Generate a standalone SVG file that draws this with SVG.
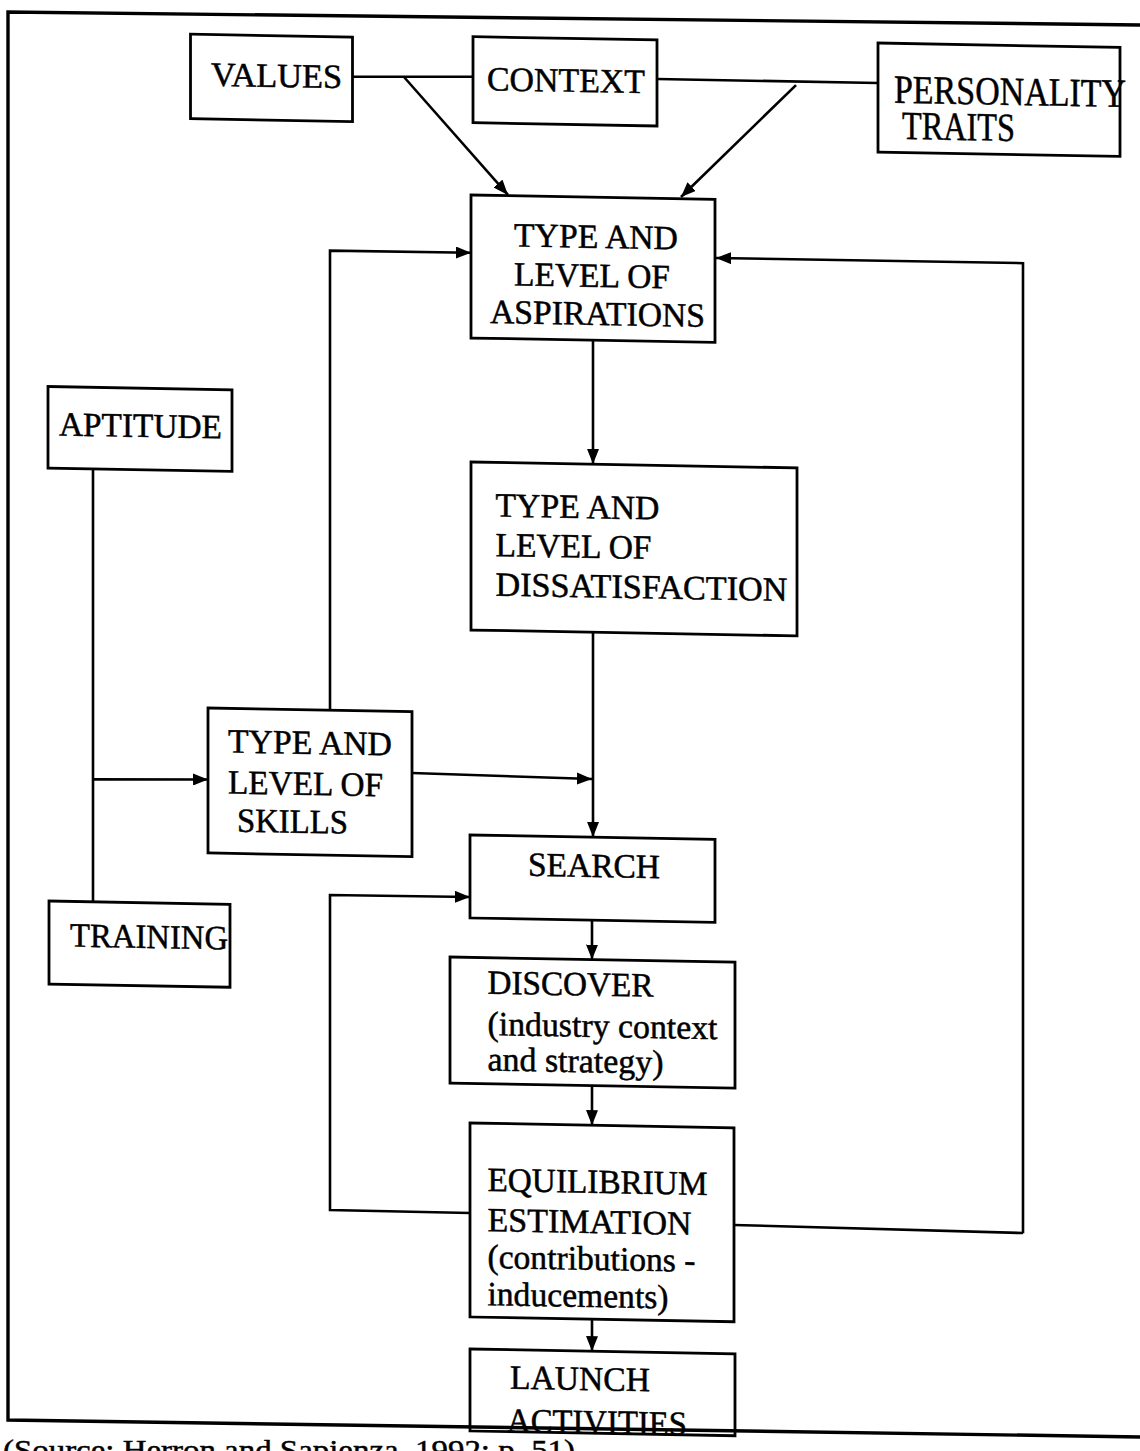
<svg xmlns="http://www.w3.org/2000/svg" width="1140" height="1451" viewBox="0 0 1140 1451">
<defs>
<marker id="ah" markerUnits="userSpaceOnUse" markerWidth="16" markerHeight="12" refX="15" refY="6" orient="auto">
<path d="M0,0 L15,6 L0,12 z" fill="#000"/>
</marker>
<style>
.box{fill:#fff;stroke:#000;stroke-width:2.8}
.ln{fill:none;stroke:#000;stroke-width:2.6}
.arr{fill:none;stroke:#000;stroke-width:2.6;marker-end:url(#ah)}
.frame{fill:none;stroke:#000;stroke-width:3.4}
text{font-family:"Liberation Serif","Times New Roman",serif;font-size:34px;fill:#000;stroke:#000;stroke-width:0.5}
.big{font-size:40px}
.src{font-size:30px}
</style>
</defs>
<rect width="1140" height="1451" fill="#fff"/>
<g transform="matrix(1,0.018,0,1,0,-10.26)">
<g id="connectors">
<line class="ln" x1="353" y1="80.6" x2="473" y2="78.5"/>
<line class="ln" x1="657" y1="77.4" x2="878" y2="77.5"/>
<line class="arr" x1="404" y1="80" x2="508" y2="196"/>
<line class="arr" x1="796" y1="81" x2="681" y2="195"/>
<polyline class="arr" points="330,714 330,255 471,254.5"/>
<polyline class="arr" points="1023,1225 1023,255 716,255.3"/>
<line class="arr" x1="593" y1="340" x2="593" y2="463.5"/>
<line class="arr" x1="593" y1="632" x2="593" y2="836.5"/>
<line class="ln" x1="93" y1="476.6" x2="93" y2="909.6"/>
<line class="arr" x1="93" y1="788" x2="208" y2="786"/>
<line class="arr" x1="412" y1="775.8" x2="592" y2="778.6"/>
<polyline class="arr" points="470,1214.8 330,1214.3 330,899.3 470,898.8"/>
<line class="arr" x1="592" y1="920" x2="592" y2="959.2"/>
<line class="arr" x1="592" y1="1085" x2="592" y2="1124.8"/>
<line class="ln" x1="734" y1="1222" x2="1023" y2="1224.9"/>
<line class="arr" x1="592" y1="1319" x2="592" y2="1350.8"/>
</g>
<g id="values">
<rect class="box" x="190.5" y="41" width="162" height="84.5"/>
<text x="211" y="92.3" textLength="131" lengthAdjust="spacingAndGlyphs">VALUES</text>
</g>
<g id="context">
<rect class="box" x="473" y="38.4" width="184" height="86"/>
<text x="487" y="91.8" textLength="158" lengthAdjust="spacingAndGlyphs">CONTEXT</text>
</g>
<g id="personality">
<rect class="box" x="878" y="37.5" width="242" height="109"/>
<text class="big" x="894" y="97" textLength="232" lengthAdjust="spacingAndGlyphs">PERSONALITY</text>
<text class="big" x="902" y="133" textLength="113" lengthAdjust="spacingAndGlyphs">TRAITS</text>
</g>
<g id="aspirations">
<rect class="box" x="471" y="196.8" width="244" height="143"/>
<text x="514" y="247.5" textLength="164" lengthAdjust="spacingAndGlyphs">TYPE AND</text>
<text x="514" y="286.5" textLength="156" lengthAdjust="spacingAndGlyphs">LEVEL OF</text>
<text x="490" y="324.5" textLength="215" lengthAdjust="spacingAndGlyphs">ASPIRATIONS</text>
</g>
<g id="dissatisfaction">
<rect class="box" x="471" y="463.8" width="326" height="168"/>
<text x="495.5" y="517.9" textLength="164" lengthAdjust="spacingAndGlyphs">TYPE AND</text>
<text x="495.5" y="557.5" textLength="156" lengthAdjust="spacingAndGlyphs">LEVEL OF</text>
<text x="495.5" y="597" textLength="292" lengthAdjust="spacingAndGlyphs">DISSATISFACTION</text>
</g>
<g id="aptitude">
<rect class="box" x="48" y="395.9" width="184" height="81.5"/>
<text x="59" y="444.7" textLength="163" lengthAdjust="spacingAndGlyphs">APTITUDE</text>
</g>
<g id="training">
<rect class="box" x="49" y="910.4" width="181" height="83"/>
<text x="70" y="955.6" textLength="158" lengthAdjust="spacingAndGlyphs">TRAINING</text>
</g>
<g id="skills">
<rect class="box" x="208" y="714.5" width="204" height="145"/>
<text x="228" y="758.7" textLength="164" lengthAdjust="spacingAndGlyphs">TYPE AND</text>
<text x="228" y="799.7" textLength="155" lengthAdjust="spacingAndGlyphs">LEVEL OF</text>
<text x="237" y="837.7" textLength="111" lengthAdjust="spacingAndGlyphs">SKILLS</text>
</g>
<g id="search">
<rect class="box" x="470" y="836.8" width="245" height="83"/>
<text x="528" y="876.6" textLength="132" lengthAdjust="spacingAndGlyphs">SEARCH</text>
</g>
<g id="discover">
<rect class="box" x="450" y="959.2" width="285" height="126"/>
<text x="487.5" y="995.2" textLength="166" lengthAdjust="spacingAndGlyphs">DISCOVER</text>
<text x="487.5" y="1036.5" textLength="230" lengthAdjust="spacingAndGlyphs">(industry context</text>
<text x="487.5" y="1072" textLength="176" lengthAdjust="spacingAndGlyphs">and strategy)</text>
</g>
<g id="equilibrium">
<rect class="box" x="470" y="1124.8" width="264" height="194"/>
<text x="487.5" y="1192.5" textLength="220" lengthAdjust="spacingAndGlyphs">EQUILIBRIUM</text>
<text x="487.5" y="1232.7" textLength="204" lengthAdjust="spacingAndGlyphs">ESTIMATION</text>
<text x="487.5" y="1269.5" textLength="208" lengthAdjust="spacingAndGlyphs">(contributions -</text>
<text x="487.5" y="1306.7" textLength="181" lengthAdjust="spacingAndGlyphs">inducements)</text>
</g>
<g id="launch">
<rect class="box" x="470" y="1350.8" width="265" height="82"/>
<text x="510" y="1389.8" textLength="140" lengthAdjust="spacingAndGlyphs">LAUNCH</text>
<text x="507" y="1433" textLength="180" lengthAdjust="spacingAndGlyphs">ACTIVITIES</text>
</g>
</g>
<g id="frame">
<path class="frame" d="M1145,25 L8,12 L8,1420 L1145,1437"/>
</g>
<g id="source">
<text class="src" x="3" y="1460" textLength="572" lengthAdjust="spacingAndGlyphs">(Source: Herron and Sapienza, 1992: p. 51)</text>
</g>
</svg>
